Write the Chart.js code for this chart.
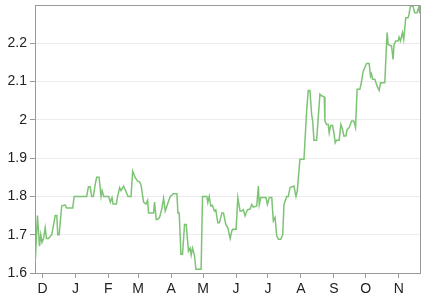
<!DOCTYPE html>
<html>
<head>
<meta charset="utf-8">
<script src="https://cdn.jsdelivr.net/npm/chart.js@4.4.0/dist/chart.umd.min.js"></script>
<style>
html,body{margin:0;padding:0;background:#fff;}
#wrap{width:433px;height:294px;}
</style>
</head>
<body>
<div id="wrap"><canvas id="c" width="433" height="294"></canvas></div>
<script>
// day offsets from start (late November)
const days = [0.2,2.3,4.2,5.4,6.6,8.0,9.6,10.8,12.7,15.8,19.0,20.5,21.4,22.7,25.1,28.3,29.8,35.5,36.8,48.6,
50.2,51.8,53.3,54.9,56.5,58.0,60.2,62.1,63.1,64.6,69.3,70.8,72.4,73.4,76.5,77.7,79.6,80.9,83.3,85.2,
87.5,90.3,91.8,94.3,96.5,98.3,99.7,102.1,104.3,105.9,106.8,111.5,112.4,114.0,115.2,117.1,119.4,120.9,122.5,124.1,
125.6,127.2,130.2,133.4,134.4,135.6,137.2,138.7,140.6,142.2,144.3,145.9,146.9,148.1,150.0,151.3,156.2,157.5,161.6,162.5,
163.8,165.3,166.8,168.7,170.0,171.9,173.4,175.7,177.2,179.4,181.3,183.5,185.1,186.0,189.1,190.7,192.8,194.4,195.9,197.5,
199.7,202.2,203.8,205.3,208.5,210.0,210.9,212.3,217.2,218.5,220.3,222.6,224.1,225.7,227.3,228.8,231.0,232.9,234.1,236.7,
238.2,239.8,243.5,245.4,246.6,249.1,252.9,255.4,256.9,258.5,260.1,261.1,262.3,264.8,266.3,267.9,269.5,272.0,272.6,274.2,
275.7,276.6,277.9,279.8,281.3,282.3,283.6,286.0,287.6,289.2,290.4,292.3,293.5,295.4,297.7,299.8,301.4,302.9,305.5,307.0,
308.5,311.7,314.2,315.5,316.4,317.4,319.5,321.7,323.6,324.9,328.9,330.5,331.1,332.0,335.2,336.7,337.6,339.2,341.4,342.3,
343.6,345.5,346.7,348.6,350.8,351.7,353.0,355.4,357.0,359.2,361.1,361.7];
const values = [1.627,1.75,1.67,1.70,1.68,1.69,1.718,1.69,1.69,1.70,1.75,1.75,1.70,1.70,1.775,1.778,1.77,1.77,1.80,1.80,
1.825,1.825,1.80,1.80,1.83,1.85,1.85,1.80,1.815,1.80,1.80,1.785,1.797,1.78,1.78,1.80,1.823,1.815,1.827,1.815,
1.80,1.80,1.866,1.849,1.84,1.838,1.83,1.785,1.78,1.79,1.757,1.757,1.785,1.74,1.74,1.745,1.77,1.795,1.762,1.775,
1.788,1.80,1.807,1.807,1.757,1.757,1.649,1.649,1.727,1.727,1.657,1.665,1.647,1.665,1.645,1.61,1.61,1.80,1.80,1.784,
1.80,1.775,1.777,1.762,1.765,1.731,1.731,1.757,1.757,1.727,1.718,1.69,1.71,1.714,1.714,1.797,1.762,1.762,1.765,1.749,
1.765,1.767,1.779,1.772,1.775,1.827,1.779,1.797,1.797,1.779,1.797,1.797,1.736,1.745,1.697,1.688,1.688,1.70,1.779,1.80,
1.80,1.823,1.827,1.80,1.814,1.897,1.897,2.023,2.077,2.077,2.014,1.997,1.947,1.947,2.005,2.067,2.063,2.06,1.997,1.988,
1.988,1.966,1.985,1.985,1.962,1.94,1.947,1.947,1.988,1.975,1.958,1.958,1.975,1.98,1.997,1.997,1.98,2.08,2.08,2.10,
2.126,2.147,2.147,2.114,2.12,2.106,2.106,2.088,2.077,2.097,2.097,2.197,2.228,2.197,2.193,2.158,2.197,2.206,2.206,2.216,
2.206,2.228,2.21,2.267,2.267,2.276,2.297,2.297,2.28,2.28,2.297,2.278];
const monthTicks = [7,38,69,97,128,158,189,219,250,281,311,342];
const monthLabels = ['D','J','F','M','A','M','J','J','A','S','O','N'];
const yTicks = [1.6,1.7,1.8,1.9,2,2.1,2.2];

const points = days.map((d,i)=>({x:d,y:values[i]}));

const frame = {
  id:'frame',
  afterDraw(chart){
    const a = chart.chartArea, ctx = chart.ctx;
    ctx.save();
    ctx.strokeStyle = '#999';
    ctx.lineWidth = 1;
    ctx.beginPath();
    ctx.moveTo(Math.round(a.left)+0.5, Math.round(a.top)+0.5);
    ctx.lineTo(Math.round(a.right)+0.5, Math.round(a.top)+0.5);
    ctx.lineTo(Math.round(a.right)+0.5, Math.round(a.bottom)+0.5);
    ctx.stroke();
    ctx.restore();
  }
};

new Chart(document.getElementById('c'), {
  type:'line',
  data:{datasets:[{data:points, borderColor:'#7cc474', borderWidth:1.5, pointRadius:0, tension:0, fill:false}]},
  options:{
    responsive:false, animation:false,
    layout:{padding:{top:5, right:13, left:0, bottom:0}},
    plugins:{legend:{display:false}, tooltip:{enabled:false}},
    scales:{
      x:{type:'linear', min:0, max:362,
        afterBuildTicks(s){ s.ticks = monthTicks.map(v=>({value:v})); },
        afterFit(s){ s.height = 21; s.paddingLeft = 0; s.paddingRight = 0; },
        ticks:{autoSkip:false, maxRotation:0, color:'#222', font:{family:'Liberation Sans', size:14},
          padding:3,
          callback(v){ const i = monthTicks.indexOf(v); return i>=0 ? monthLabels[i] : ''; }},
        grid:{drawOnChartArea:false, tickLength:5, tickColor:'#999'},
        border:{color:'#999'}
      },
      y:{min:1.6, max:2.3,
        afterBuildTicks(s){ s.ticks = yTicks.map(v=>({value:v})); },
        afterFit(s){ s.width = 35; s.paddingTop = 0; s.paddingBottom = 0; },
        ticks:{color:'#222', font:{family:'Liberation Sans', size:14}, padding:3,
          callback(v){ return String(Math.round(v*10)/10); }},
        grid:{color:'#ececec', tickLength:5, tickColor:'#999'},
        border:{color:'#999'}
      }
    }
  },
  plugins:[frame]
});
</script>
</body>
</html>
